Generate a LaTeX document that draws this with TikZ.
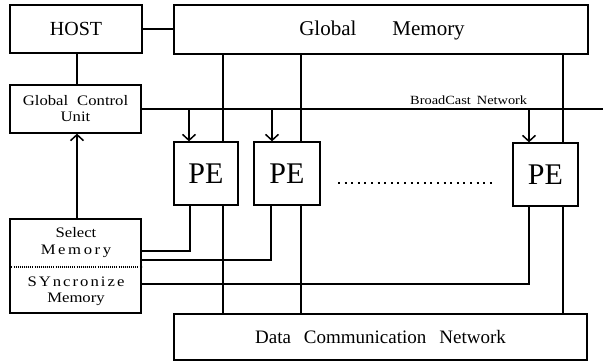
\documentclass[tikz,border=0pt]{standalone}
\usepackage{fontspec}
\setmainfont{Liberation Serif}
\newfontfamily\lblfont[FakeStretch=1.15]{Liberation Serif}
\usetikzlibrary{arrows.meta}
\begin{document}
\begin{tikzpicture}[x=1pt,y=-1pt,
  box/.style={draw,line width=1.3pt,inner sep=0pt,align=center},
  wire/.style={line width=1.1pt},
  arr/.style={line width=1.3pt,-{Straight Barb[length=6pt,width=13pt,line width=1.5pt]}},
  txt/.style={inner sep=0pt,align=center}]
\path[use as bounding box] (0,0) rectangle (603,362);

% boxes
\node[box,minimum width=132pt,minimum height=48pt,font=\fontsize{20}{22}\selectfont] (host) at (76,29) {HOST};
\node[box,minimum width=414pt,minimum height=49pt] (gm) at (381,29.5) {};
\node[txt,font=\fontsize{21}{23}\selectfont] (gmtxt) at (382,30) {Global\hspace{36pt}Memory};
\node[box,minimum width=131pt,minimum height=48pt,font=\lblfont\fontsize{14.5}{16}\selectfont] (gcu) at (75.5,109)
  {Global\hspace{9pt}Control\\Unit};
\node[box,minimum width=131pt,minimum height=94pt] (sm) at (75.5,266) {};
\node[txt,font=\lblfont\fontsize{14.5}{17}\selectfont] (smtop) at (76,243)
  {Select\\\addfontfeature{LetterSpace=18}Memory};
\node[txt,font=\lblfont\fontsize{14.5}{16}\selectfont] (smbot) at (76,291)
  {{\addfontfeature{LetterSpace=14}S\hspace{2pt}Yncronize}\\Memory};
\node[box,minimum width=64pt,minimum height=63pt,font=\fontsize{30}{32}\selectfont] (pe1) at (206,173.5) {PE};
\node[box,minimum width=66pt,minimum height=63pt,font=\fontsize{30}{32}\selectfont] (pe2) at (287,173.5) {PE};
\node[box,minimum width=65pt,minimum height=63pt,font=\fontsize{30}{32}\selectfont] (pe3) at (545.5,174.5) {PE};
\node[box,minimum width=413pt,minimum height=46pt,font=\fontsize{19}{21}\selectfont] (dcn) at (380.5,337)
  {Data\hspace{13pt}Communication\hspace{13pt}Network};
\node[txt,anchor=base west,font=\lblfont\fontsize{12.5}{14}\selectfont] (bcn) at (410,104)
  {BroadCast\hspace{6pt}Network};

% divider in select/syncronize memory
\draw[line width=1.2pt,dash pattern=on 1pt off 1.1pt] (sm.west |- 0,267) -- (sm.east |- 0,267);

% host links
\draw[wire] (host.east) -- (host.east -| gm.west);
\draw[wire] (host.south -| 77,0) -- (gcu.north -| 77,0);
\draw[arr] (sm.north -| 77,0) -- (gcu.south -| 77,0);

% broadcast network
\coordinate (bend) at (603,109);
\draw[wire] (gcu.east) -- (bend);
\coordinate (b1) at (189,109);
\coordinate (b2) at (272,109);
\coordinate (b3) at (529,109);
\draw[arr] (b1) -- (b1 |- pe1.north);
\draw[arr] (b2) -- (b2 |- pe2.north);
\draw[arr] (b3) -- (b3 |- pe3.north);

% global memory <-> PE <-> data communication network
\coordinate (g1) at (223,0);
\coordinate (g2) at (301,0);
\coordinate (g3) at (563,0);
\draw[wire] (g1 |- gm.south) -- (g1 |- pe1.north);
\draw[wire] (g1 |- pe1.south) -- (g1 |- dcn.north);
\draw[wire] (g2 |- gm.south) -- (g2 |- pe2.north);
\draw[wire] (g2 |- pe2.south) -- (g2 |- dcn.north);
\draw[wire] (g3 |- gm.south) -- (g3 |- pe3.north);
\draw[wire] (g3 |- pe3.south) -- (g3 |- dcn.north);

% PE -> select / syncronize memory
\coordinate (s1) at (190,251);
\coordinate (s2) at (271,260);
\coordinate (s3) at (529,284);
\draw[wire] (s1 |- pe1.south) -- (s1) -- (s1 -| sm.east);
\draw[wire] (s2 |- pe2.south) -- (s2) -- (s2 -| sm.east);
\draw[wire] (s3 |- pe3.south) -- (s3) -- (s3 -| sm.east);

% dots between PEs
\coordinate (d1) at (338,183);
\coordinate (d2) at (494,183);
\draw[line width=2.2pt,dash pattern=on 2pt off 4.6pt] (d1) -- (d2);
\end{tikzpicture}
\end{document}
